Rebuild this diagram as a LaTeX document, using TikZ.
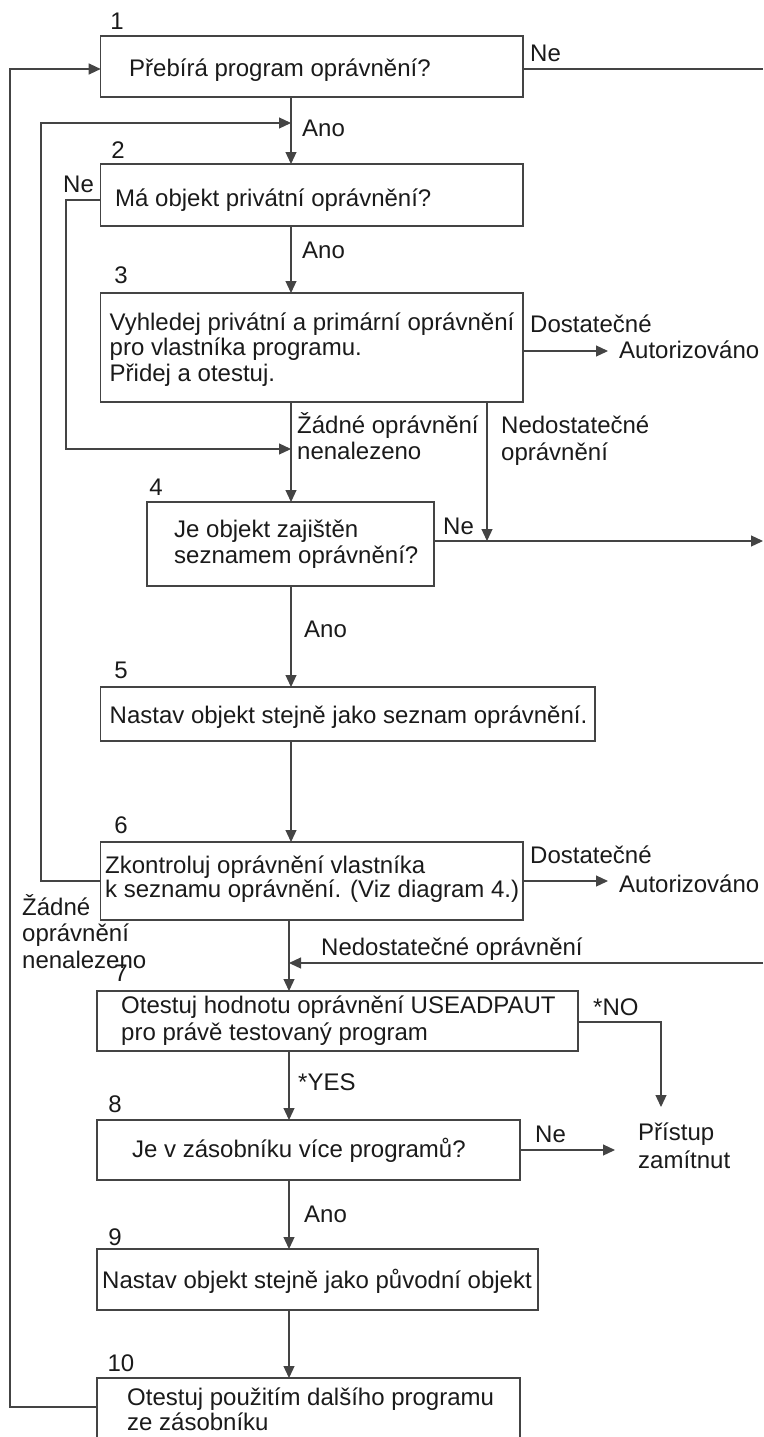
\documentclass[tikz,border=0pt]{standalone}
\usepackage{fontspec}
\setmainfont{Liberation Sans}
\usetikzlibrary{arrows.meta,calc}
\definecolor{linec}{HTML}{444444}
\definecolor{textc}{HTML}{1A1A1A}
\begin{document}
\begin{tikzpicture}[x=1pt,y=-1pt,
  box/.style={draw=linec,line width=1.2pt,inner sep=0pt,outer sep=0pt},
  wire/.style={draw=linec,line width=1.2pt},
  arr/.style={wire,-{Triangle[length=12pt,width=11pt]}},
  txt/.style={text=textc,inner sep=0pt,anchor=base west,align=left,
    font=\fontsize{24}{26}\selectfont},
  num/.style={txt,anchor=base}]
\useasboundingbox (0,0) rectangle (763,1437);
\clip (0,0) rectangle (763,1437);

% spines and junctions
\coordinate (spine) at (291,0);
\coordinate (spinetwo) at (289,0);
\coordinate (jloop) at (291,123);
\coordinate (jne) at (291,449);
\coordinate (nd) at (487,541);
\coordinate (edgefour) at (763,541);
\coordinate (edgeone) at (763,69);
\coordinate (edgeseven) at (763,963);
\coordinate (notip) at (661,1107);

% boxes
\node[box,minimum width=422.3pt,minimum height=61pt] (b1) at (311.85,66.5) {};
\node[box,minimum width=422.3pt,minimum height=62pt] (b2) at (311.85,195) {};
\node[box,minimum width=422.3pt,minimum height=109pt] (b3) at (311.85,347.5) {};
\node[box,minimum width=287pt,minimum height=84pt] (b4) at (290.5,544) {};
\node[box,minimum width=494.3pt,minimum height=54pt] (b5) at (347.85,714) {};
\node[box,minimum width=422.3pt,minimum height=78pt] (b6) at (311.85,881) {};
\node[box,minimum width=481pt,minimum height=60pt] (b7) at (337.5,1021) {};
\node[box,minimum width=423pt,minimum height=60pt] (b8) at (308.5,1150) {};
\node[box,minimum width=441pt,minimum height=61pt] (b9) at (317.5,1279.5) {};
\node[box,minimum width=423pt,minimum height=82pt] (b10) at (308.5,1419) {};

% step numbers
\node[num] (n1) at (117,30) {1};
\node[num] (n2) at (118,158) {2};
\node[num] (n3) at (121,283) {3};
\node[num] (n4) at (156,495) {4};
\node[num] (n5) at (121,678) {5};
\node[num] (n6) at (121,833) {6};
\node[num] (n7) at (121,981) {7};
\node[num] (n8) at (115,1112) {8};
\node[num] (n9) at (115,1245) {9};
\node[num] (n10) at (121,1371) {10};

% box texts (multi-line nodes are placed by the baseline of their last line)
\node[txt] (t1) at (129,76) {Přebírá program oprávnění?};
\node[txt] (t2) at (115,206) {Má objekt privátní oprávnění?};
\node[txt] (t3) at (109.5,381) {Vyhledej privátní a primární oprávnění\\[-0.5pt]pro vlastníka programu.\\[-0.5pt]Přidej a otestuj.};
\node[txt] (t4) at (174,563) {Je objekt zajištěn\\seznamem oprávnění?};
\node[txt] (t5) at (109.5,723) {Nastav objekt stejně jako seznam oprávnění.};
\node[txt] (t6) at (105,897) {Zkontroluj oprávnění vlastníka\\[-2pt]k seznamu oprávnění. (Viz diagram 4.)};
\node[txt] (t7) at (121,1040) {Otestuj hodnotu oprávnění USEADPAUT\\[1pt]pro právě testovaný program};
\node[txt] (t8) at (132,1157) {Je v zásobníku více programů?};
\node[txt] (t9) at (102,1288) {Nastav objekt stejně jako původní objekt};
\node[txt] (t10) at (127,1430) {Otestuj použitím dalšího programu\\[-1pt]ze zásobníku};

% outcome texts
\node[txt] (aut1) at (619,358) {Autorizováno};
\node[txt] (aut2) at (619,892) {Autorizováno};
\node[txt] (deny) at (638,1168) {Přístup\\[2pt]zamítnut};

% connector labels
\node[txt] (l1ne) at (530,62) {Ne};
\node[txt] (l1ano) at (302,136) {Ano};
\node[txt] (l2ne) at (63,192) {Ne};
\node[txt] (l2ano) at (302,258) {Ano};
\node[txt] (l3ok) at (530,332) {Dostatečné};
\node[txt] (l3none) at (297,459) {Žádné oprávnění\\nenalezeno};
\node[txt] (l3low) at (501,460) {Nedostatečné\\[1pt]oprávnění};
\node[txt] (l4ne) at (443,534) {Ne};
\node[txt] (l4ano) at (304,637) {Ano};
\node[txt] (l6ok) at (530,863) {Dostatečné};
\node[txt] (l6none) at (22,968) {Žádné\\[0.5pt]oprávnění\\[0.5pt]nenalezeno};
\node[txt] (l7in) at (321,955) {Nedostatečné oprávnění};
\node[txt] (l7no) at (593,1015) {*NO};
\node[txt] (l7yes) at (298,1090) {*YES};
\node[txt] (l8ne) at (535,1142) {Ne};
\node[txt] (l8ano) at (304,1222) {Ano};

% main flow
\draw[arr] (b1.south -| spine) -- (b2.north -| spine);
\draw[arr] (b2.south -| spine) -- (b3.north -| spine);
\draw[arr] (b3.south -| spine) -- (b4.north -| spine);
\draw[arr] (b4.south -| spine) -- (b5.north -| spine);
\draw[arr] (b5.south -| spine) -- (b6.north -| spine);
\draw[arr] (b6.south -| spinetwo) -- (b7.north -| spinetwo);
\draw[arr] (b7.south -| spinetwo) -- (b8.north -| spinetwo);
\draw[arr] (b8.south -| spinetwo) -- (b9.north -| spinetwo);
\draw[arr] (b9.south -| spinetwo) -- (b10.north -| spinetwo);

% branches
\draw[wire] ([yshift=-2.5pt]b1.east) -- (edgeone);
\draw[arr] ([yshift=-5pt]b2.west) -- ++(-34.7,0) |- (jne);
\draw[arr] ([yshift=-3.5pt]b3.east) -- ++(85,0);
\draw[arr] (b3.south -| nd) -- (nd);
\draw[arr] (b4.east |- nd) -- (edgefour);
\draw[arr] (b6.east) -- ++(85,0);
\draw[arr] (edgeseven) -- (spinetwo |- edgeseven);
\draw[arr] ([yshift=-1pt]b7.east) -| (notip);
\draw[arr] (b8.east) -- ++(95,0);

% loops back
\draw[arr] (b6.west) -- ++(-59.7,0) |- (jloop);
\draw[arr] ([yshift=12pt]b10.west) -- ++(-87,0) |- ([yshift=-2.5pt]b1.west);
\end{tikzpicture}
\end{document}
